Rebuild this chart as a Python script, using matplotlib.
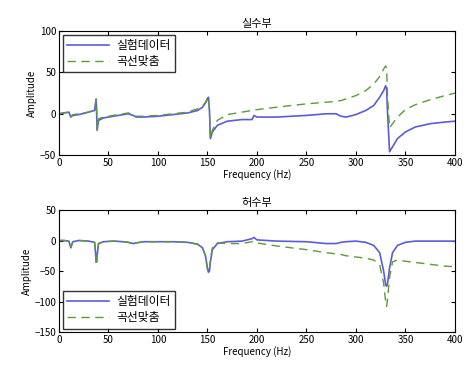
import numpy as np
import matplotlib
matplotlib.use('Agg')
import matplotlib.pyplot as plt

plt.rcParams['font.family'] = ['Noto Sans CJK KR', 'DejaVu Sans']

freq = [0, 5, 10, 12, 14, 20, 30, 36, 37.5, 38, 38.5, 40, 45, 55, 65, 70, 75, 78, 85,
        100, 115, 130, 140, 145, 148, 150, 151, 152, 153, 155, 160, 170, 185, 195, 197,
        200, 220, 250, 270, 280, 285, 290, 300, 310, 318, 324, 328, 330, 331, 332, 334,
        337, 342, 350, 360, 375, 390, 400]

real_exp = [0, 1, 2, -4, -2, -1, 2, 4, 18, 5, -20, -8, -5, -3, -1, 0, -2, -4, -4,
            -3, -1, 1, 4, 8, 13, 18, 20, 5, -30, -22, -14, -9, -7, -7, -2,
            -4, -4, -2, 0, 0, -3, -4, -1, 4, 10, 20, 28, 34, 30, 0, -46,
            -40, -30, -22, -16, -12, -10, -9]
real_fit = [0, 1, 2, -3, -1, 0, 2, 5, 16, 5, -18, -6, -4, -2, 0, 1, -1, -3, -3,
            -2, 0, 2, 6, 9, 14, 19, 20, 5, -30, -20, -8, -1, 2, 4, 5,
            5, 8, 12, 14, 15, 16, 18, 22, 28, 36, 45, 54, 58, 55, 20, -17,
            -12, -4, 5, 11, 17, 22, 25]
imag_exp = [0, 0, -1, -12, -2, 0, -1, -3, -30, -35, -25, -5, -2, -1, -2, -3, -5, -4, -2,
            -2, -2, -3, -6, -12, -25, -45, -52, -50, -35, -15, -5, -2, -1, 3, 5,
            1, -1, -2, -5, -5, -3, -2, -1, -3, -8, -20, -50, -72, -75, -70, -45,
            -20, -8, -3, -1, -1, -1, -1]
imag_fit = [0, 0, -1, -10, -2, 0, -1, -3, -38, -40, -28, -5, -2, -1, -2, -3, -5, -4, -2,
            -2, -2, -3, -6, -12, -25, -48, -52, -48, -30, -12, -4, -5, -5, -2, -1,
            -4, -9, -15, -20, -22, -23, -25, -27, -29, -32, -40, -70, -100, -108, -95, -60,
            -35, -32, -34, -36, -39, -42, -43]

blue = '#5c5cd8'
green = '#5c9a3c'
labels = ['실험데이터', '곡선맞춤']

fig = plt.figure(figsize=(4.68, 3.71), dpi=100)
ax1 = fig.add_axes([0.126, 0.582, 0.846, 0.334])
ax2 = fig.add_axes([0.126, 0.105, 0.846, 0.329])

leg_kw = dict(fontsize=8.5, fancybox=False, edgecolor='black', handlelength=3.6,
              borderpad=0.35, labelspacing=0.25, borderaxespad=0.3, handletextpad=0.6)

ax1.plot(freq, real_exp, color=blue, lw=1.2, label=labels[0])
ax1.plot(freq, real_fit, color=green, lw=1.0, ls=(0, (6, 4)), label=labels[1])
ax1.set_ylim(-50, 100)
ax1.set_yticks([-50, 0, 50, 100])
ax1.set_title('실수부', fontsize=8, pad=3)
ax1.legend(loc='upper left', **leg_kw)

ax2.plot(freq, imag_exp, color=blue, lw=1.2, label=labels[0])
ax2.plot(freq, imag_fit, color=green, lw=1.0, ls=(0, (6, 4)), label=labels[1])
ax2.set_ylim(-150, 50)
ax2.set_yticks([-150, -100, -50, 0, 50])
ax2.set_title('허수부', fontsize=8, pad=3)
ax2.legend(loc='lower left', **leg_kw)

for ax in (ax1, ax2):
    ax.set_xlim(0, 400)
    ax.set_xticks(range(0, 401, 50))
    ax.tick_params(direction='in', top=True, right=True, labelsize=7, length=3, pad=2)
    ax.set_xlabel('Frequency (Hz)', fontsize=7, labelpad=1)
    ax.set_ylabel('Amplitude', fontsize=7, labelpad=2)
    for s in ax.spines.values():
        s.set_linewidth(0.8)

fig.savefig('out.png', dpi=100)
